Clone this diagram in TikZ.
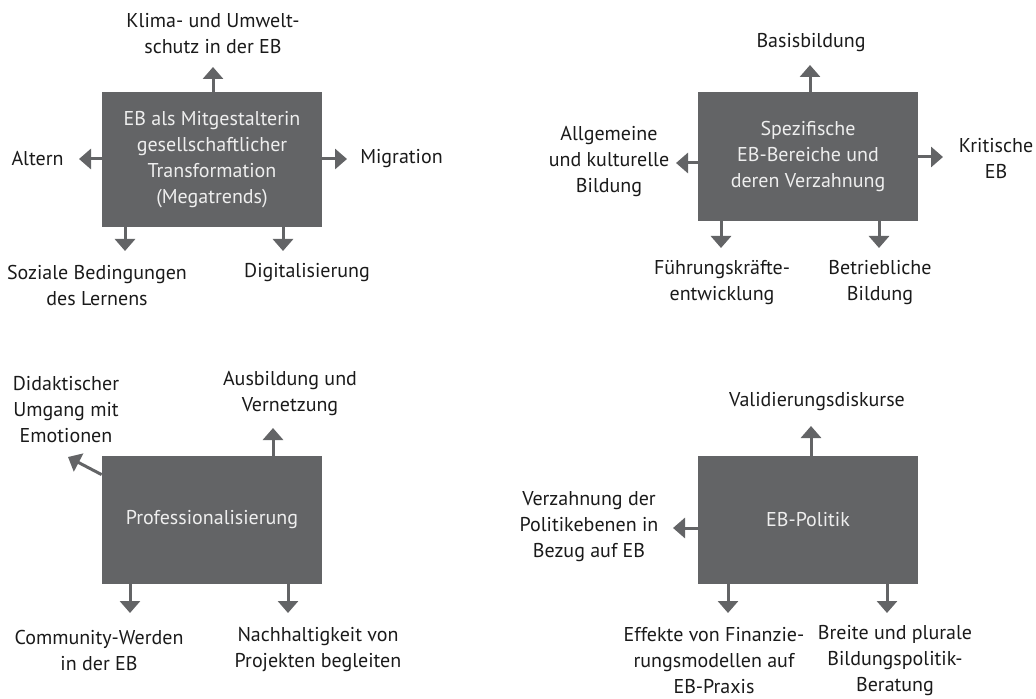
\documentclass[tikz,border=0pt]{standalone}
\usepackage{fontspec}
\setmainfont{PT Sans}
\usetikzlibrary{arrows.meta}
\usepackage{xcolor}
\definecolor{boxgray}{RGB}{99,100,102}
\definecolor{boxtext}{RGB}{238,238,238}
\definecolor{labeltext}{RGB}{26,26,26}
\tikzset{
	thema/.style={fill=boxgray, text=boxtext, minimum width=110pt, align=center, inner sep=0pt, font=\fontsize{10}{13}\selectfont},
	stichwort/.style={text=labeltext, align=center, inner sep=0pt, font=\fontsize{10}{13}\selectfont},
	pfeil/.style={draw=boxgray, line width=1.5pt, -{Triangle[length=6pt,width=10pt]}}
}

\begin{document}
\begin{tikzpicture}[x=0.5pt,y=-0.5pt]
	\useasboundingbox (0,0) rectangle (1036,699);
	
	% Megatrends
	\node[thema, minimum height=67.5pt] (mega) at (212,159.5) {EB als Mitgestalterin\\gesellschaftlicher\\Transformation\\(Megatrends)};
	
	\node[stichwort] (klima) at (213,33.5) {Klima- und Umwelt-\\schutz in der EB};
	\node[stichwort] (altern) at (37.5,159) {Altern};
	\node[stichwort] (migration) at (401.5,159) {Migration};
	\node[stichwort] (sozial) at (97,285.5) {Soziale Bedingungen\\des Lernens};
	\node[stichwort] (digital) at (307,273) {Digitalisierung};
	
	\coordinate (megaup) at (213,67);
	\coordinate (megaleft) at (79,159);
	\coordinate (megaright) at (347,159);
	\coordinate (megadl) at (125,251);
	\coordinate (megadr) at (283,251);
	
	\draw[pfeil] (mega.north -| megaup) -- (megaup);
	\draw[pfeil] (mega.west |- megaleft) -- (megaleft);
	\draw[pfeil] (mega.east |- megaright) -- (megaright);
	\draw[pfeil] (mega.south -| megadl) -- (megadl);
	\draw[pfeil] (mega.south -| megadr) -- (megadr);
	
	% EB-Bereiche
	\node[thema, minimum height=64.5pt] (bereiche) at (808,156.5) {Spezifische\\EB-Bereiche und\\deren Verzahnung};
	
	\node[stichwort] (basis) at (811,43) {Basisbildung};
	\node[stichwort] (allgemein) at (609,162) {Allgemeine\\und kulturelle\\Bildung};
	\node[stichwort] (kritisch) at (996,158.5) {Kritische\\EB};
	\node[stichwort] (fuehrung) at (722,283) {Führungskräfte-\\entwicklung};
	\node[stichwort] (betrieb) at (880,283) {Betriebliche\\Bildung};
	
	\coordinate (berup) at (810,65);
	\coordinate (berleft) at (676,163);
	\coordinate (berright) at (943,157);
	\coordinate (berdl) at (721,248);
	\coordinate (berdr) at (879,248);
	
	\draw[pfeil] (bereiche.north -| berup) -- (berup);
	\draw[pfeil] (bereiche.west |- berleft) -- (berleft);
	\draw[pfeil] (bereiche.east |- berright) -- (berright);
	\draw[pfeil] (bereiche.south -| berdl) -- (berdl);
	\draw[pfeil] (bereiche.south -| berdr) -- (berdr);
	
	% Professionalisierung
	\node[thema, minimum height=64pt] (prof) at (212,520) {Professionalisierung};
	
	\node[stichwort] (didaktik) at (66,410) {Didaktischer\\Umgang mit\\Emotionen};
	\node[stichwort] (ausbildung) at (290,394) {Ausbildung und\\Vernetzung};
	\node[stichwort] (community) at (99,650) {Community-Werden\\in der EB};
	\node[stichwort] (nachhalt) at (318,650) {Nachhaltigkeit von\\Projekten begleiten};
	
	\coordinate (proful) at (68,457);
	\coordinate (profup) at (273,428);
	\coordinate (profdl) at (130,613);
	\coordinate (profdr) at (288,613);
	
	\draw[pfeil] ([yshift=-9.5pt]prof.north west) -- (proful);
	\draw[pfeil] (prof.north -| profup) -- (profup);
	\draw[pfeil] (prof.south -| profdl) -- (profdl);
	\draw[pfeil] (prof.south -| profdr) -- (profdr);
	
	% EB-Politik
	\node[thema, minimum height=64pt] (politik) at (808,520) {EB-Politik};
	
	\node[stichwort] (valid) at (817,402) {Validierungsdiskurse};
	\node[stichwort] (ebenen) at (589,527) {Verzahnung der\\Politikebenen in\\Bezug auf EB};
	\node[stichwort] (effekte) at (714,661) {Effekte von Finanzie-\\rungsmodellen auf\\EB-Praxis};
	\node[stichwort] (breite) at (895,661) {Breite und plurale\\Bildungspolitik-\\Beratung};
	
	\coordinate (polup) at (811,426);
	\coordinate (polleft) at (673,528);
	\coordinate (poldl) at (728,613);
	\coordinate (poldr) at (887,613);
	
	\draw[pfeil] (politik.north -| polup) -- (polup);
	\draw[pfeil] (politik.west |- polleft) -- (polleft);
	\draw[pfeil] (politik.south -| poldl) -- (poldl);
	\draw[pfeil] (politik.south -| poldr) -- (poldr);
\end{tikzpicture}
\end{document}
